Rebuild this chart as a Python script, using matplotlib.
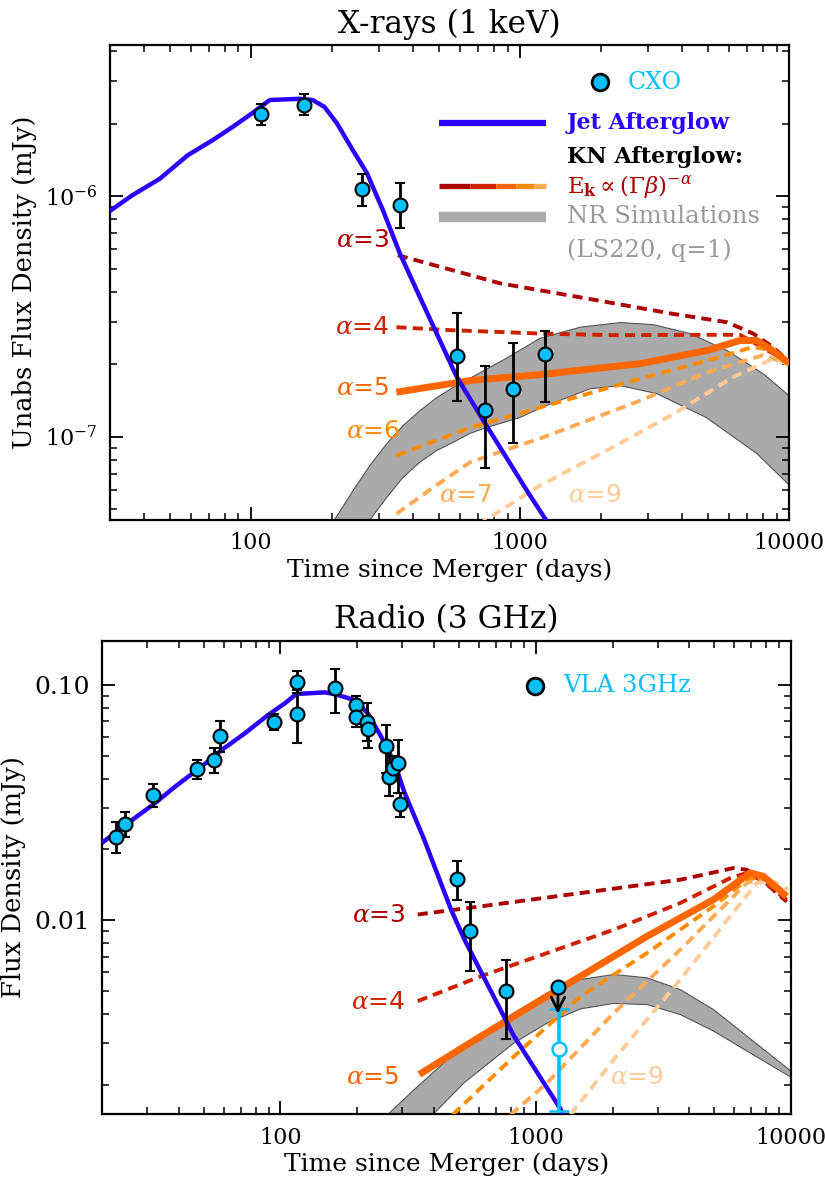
import numpy as np
import matplotlib
matplotlib.use("Agg")
import matplotlib.pyplot as plt
from matplotlib.ticker import FixedLocator, NullFormatter, LogLocator

plt.rcParams['font.family'] = ['DejaVu Serif']
plt.rcParams['mathtext.fontset'] = 'dejavuserif'

# ---------------- X-ray (1 keV) ----------------
xr_t = [109, 158, 260, 359, 585, 745, 940, 1236]
xr_f = [2.20e-6, 2.40e-6, 1.07e-6, 9.15e-7, 2.17e-7, 1.29e-7, 1.58e-7, 2.20e-7]
xr_hi = [2.42e-6, 2.66e-6, 1.24e-6, 1.13e-6, 3.27e-7, 1.96e-7, 2.45e-7, 2.75e-7]
xr_lo = [1.98e-6, 2.18e-6, 0.91e-6, 7.38e-7, 1.40e-7, 7.41e-8, 9.42e-8, 1.39e-7]

jx_t = [30, 36.4, 45.9, 58.4, 72.3, 85.7, 101.7, 117.7, 152, 170, 188, 209, 239,
        270, 310, 358, 414, 583, 745, 1080, 1256, 1320]
jx_f = [8.68e-7, 1.01e-6, 1.18e-6, 1.48e-6, 1.71e-6, 1.94e-6, 2.22e-6, 2.51e-6,
        2.54e-6, 2.51e-6, 2.35e-6, 2.01e-6, 1.56e-6, 1.25e-6, 8.74e-7, 5.79e-7,
        4.06e-7, 1.77e-7, 1.13e-7, 5.79e-8, 4.47e-8, 4.0e-8]

nrx_up_t = [190, 202, 240, 277, 320, 368, 425, 490, 565, 893, 1186, 1675, 2366, 3141,
            4300, 5884, 8058, 10000]
nrx_up_f = [3.9e-8, 4.4e-8, 5.96e-8, 7.57e-8, 9.33e-8, 1.11e-7, 1.28e-7, 1.45e-7,
            1.60e-7, 2.12e-7, 2.56e-7, 2.85e-7, 2.98e-7, 2.92e-7, 2.68e-7, 2.28e-7,
            1.82e-7, 1.48e-7]
nrx_lo_t = [255, 273, 320, 368, 425, 490, 565, 652, 751, 1000, 1223, 1820, 2354, 3222,
            4932, 7600, 10000]
nrx_lo_f = [4.0e-8, 4.4e-8, 5.58e-8, 6.76e-8, 7.82e-8, 8.74e-8, 9.46e-8, 1.03e-7,
            1.09e-7, 1.20e-7, 1.33e-7, 1.58e-7, 1.63e-7, 1.51e-7, 1.20e-7, 8.5e-8, 6.3e-8]

xa3_t = [352, 844, 1930, 3700, 5884, 7370, 8700, 10000]
xa3_f = [5.68e-7, 4.34e-7, 3.69e-7, 3.24e-7, 2.99e-7, 2.68e-7, 2.36e-7, 2.05e-7]
xa4_t = [348, 557, 1223, 2295, 4300, 6580, 8700, 10000]
xa4_f = [2.85e-7, 2.77e-7, 2.68e-7, 2.64e-7, 2.65e-7, 2.65e-7, 2.22e-7, 2.03e-7]
xa5_t = [348, 653, 1186, 2797, 4960, 6580, 7600, 8700, 10000]
xa5_f = [1.53e-7, 1.71e-7, 1.81e-7, 2.01e-7, 2.28e-7, 2.51e-7, 2.51e-7, 2.28e-7, 2.02e-7]
xa6_t = [348, 653, 1186, 2797, 4960, 7370, 8700, 10000]
xa6_f = [8.34e-8, 1.09e-7, 1.32e-7, 1.74e-7, 2.07e-7, 2.36e-7, 2.28e-7, 2.02e-7]
xa7_t = [348, 477, 653, 1220, 2797, 4960, 8000, 10000]
xa7_f = [4.77e-8, 6.15e-8, 7.82e-8, 9.93e-8, 1.41e-7, 1.85e-7, 2.18e-7, 2.0e-7]
xa9_t = [700, 1186, 2098, 3714, 6212, 8742, 10000]
xa9_f = [4.3e-8, 6.25e-8, 8.74e-8, 1.24e-7, 1.77e-7, 2.11e-7, 2.0e-7]

# ---------------- Radio (3 GHz) ----------------
rd_t = [22.7, 24.7, 31.8, 47.0, 54.9, 57.9, 94.5, 116, 116, 164, 198, 198, 218, 220,
        258, 267, 275, 290, 294, 491, 553, 765]
rd_f = [0.0227, 0.0257, 0.0341, 0.0440, 0.0481, 0.0609, 0.0698, 0.103, 0.0755, 0.0974,
        0.0822, 0.0734, 0.0698, 0.0650, 0.0552, 0.0408, 0.0443, 0.0468, 0.0313,
        0.01498, 0.00897, 0.00499]
rd_hi = [0.0261, 0.0288, 0.038, 0.0481, 0.0542, 0.0703, 0.0753, 0.1147, 0.0952, 0.1166,
         0.0901, 0.081, 0.0841, 0.072, 0.0676, 0.0530, 0.050, 0.0585, 0.0347,
         0.0179, 0.0119, 0.0068]
rd_lo = [0.0193, 0.0227, 0.0304, 0.0400, 0.0422, 0.0521, 0.0644, 0.0925, 0.0567, 0.0758,
         0.075, 0.0665, 0.058, 0.0539, 0.0423, 0.0336, 0.039, 0.0347, 0.0276,
         0.0122, 0.00607, 0.00314]
ul_t, ul_f, ul_tip = 1222, 0.00519, 0.0039
op_t, op_f, op_hi, op_lo = 1233, 0.00284, 0.0042, 0.00155

jr_t = [20.3, 22.9, 27.0, 32.3, 38.7, 49.1, 58.8, 72.6, 89.5, 104, 115.5, 149, 163, 195,
        220, 248, 280, 306, 366, 466, 525, 823, 1253, 1300]
jr_f = [0.0216, 0.0238, 0.0273, 0.0315, 0.0370, 0.0450, 0.0529, 0.0624, 0.0746, 0.0836,
        0.0916, 0.0931, 0.0916, 0.0864, 0.0758, 0.0604, 0.0466, 0.0350, 0.0220, 0.0111,
        0.0083, 0.00321, 0.00157, 0.00140]

nrr_up_t = [240, 263, 335, 452, 610, 823, 1111, 1500, 2024, 2731, 3685, 4972, 6711, 10000]
nrr_up_f = [0.0013, 0.00149, 0.00191, 0.00256, 0.00321, 0.00404, 0.00491, 0.00560,
            0.00588, 0.00569, 0.00507, 0.00417, 0.00322, 0.00228]
nrr_lo_t = [360, 395, 525, 823, 1111, 1500, 2024, 2731, 3685, 4972, 6711, 10000]
nrr_lo_f = [0.0013, 0.00149, 0.00204, 0.00301, 0.00366, 0.00420, 0.00443, 0.00438,
            0.00397, 0.00338, 0.00278, 0.00215]

ra3_t = [345, 610, 1500, 3685, 5953, 6711, 7800, 9620]
ra3_f = [0.01058, 0.01146, 0.01305, 0.01487, 0.01667, 0.0164, 0.01463, 0.0120]
ra4_t = [345, 610, 1111, 2024, 3685, 5777, 6711, 7800, 9620]
ra4_f = [0.00453, 0.00578, 0.00726, 0.00912, 0.01184, 0.0151, 0.0159, 0.01463, 0.0122]
ra5_t = [350, 425, 610, 955, 1500, 2731, 4972, 6918, 7800, 9620]
ra5_f = [0.00221, 0.00252, 0.00321, 0.00431, 0.00578, 0.00855, 0.01224, 0.0159, 0.01536, 0.01263]
ra6_t = [473, 823, 1500, 2731, 4972, 6711, 7800, 9620]
ra6_f = [0.00149, 0.00264, 0.00475, 0.00726, 0.01146, 0.01486, 0.01536, 0.01285]
ra7_t = [798, 1111, 2024, 3685, 6711, 7800, 9620]
ra7_f = [0.00149, 0.00204, 0.00404, 0.0075, 0.0144, 0.0151, 0.0131]
ra9_t = [1370, 2024, 3685, 5777, 7345, 8536, 9772]
ra9_f = [0.00149, 0.00256, 0.0056, 0.0104, 0.0144, 0.0146, 0.0135]

# colours
c_jet = '#2a00ff'
c_pt = '#00bfff'
c_a = {3: '#aa0000', 4: '#cc2200', 5: '#ff6600', 6: '#ff8c00', 7: '#ffaa55', 9: '#ffcc99'}
c_band = '#aaaaaa'
dash = (0, (2.6, 1.6))

fig = plt.figure(figsize=(8.25, 11.85), dpi=100)
ax1 = fig.add_axes([0.1333, 0.5612, 0.8230, 0.4008])
ax2 = fig.add_axes([0.1236, 0.0599, 0.8352, 0.3992])


def style_axis(ax):
    ax.set_xscale('log')
    ax.set_yscale('log')
    for s in ax.spines.values():
        s.set_linewidth(1.6)
    ax.tick_params(which='both', direction='in', top=True, right=True)
    ax.tick_params(axis='x', labelsize=16)
    ax.tick_params(which='major', length=9.5, width=1.3, pad=9)
    ax.tick_params(which='minor', length=5, width=1.1)
    ax.xaxis.set_major_locator(FixedLocator([100, 1000, 10000]))
    ax.set_xticklabels(['100', '1000', '10000'])
    ax.xaxis.set_minor_locator(LogLocator(base=10, subs=np.arange(2, 10)))
    ax.xaxis.set_minor_formatter(NullFormatter())
    ax.yaxis.set_minor_formatter(NullFormatter())
    ax.set_xlabel('Time since Merger (days)', fontsize=18, labelpad=3)


def draw_kn(ax, lines):
    for a, (t, f) in lines.items():
        if a == 5:
            ax.plot(t, f, color=c_a[a], lw=5, solid_capstyle='butt', zorder=3)
        else:
            ax.plot(t, f, color=c_a[a], lw=2.8, ls=dash, zorder=3)


# ---------- top panel ----------
style_axis(ax1)
ax1.fill(nrx_up_t + nrx_lo_t[::-1], nrx_up_f + nrx_lo_f[::-1], facecolor=c_band,
         edgecolor='#555555', lw=0.8, zorder=1)
draw_kn(ax1, {3: (xa3_t, xa3_f), 4: (xa4_t, xa4_f), 6: (xa6_t, xa6_f),
              7: (xa7_t, xa7_f), 9: (xa9_t, xa9_f), 5: (xa5_t, xa5_f)})
ax1.plot(jx_t, jx_f, color=c_jet, lw=3.2, zorder=4)
xr_f_a = np.array(xr_f)
ax1.errorbar(xr_t, xr_f, yerr=[xr_f_a - np.array(xr_lo), np.array(xr_hi) - xr_f_a],
             fmt='o', mfc=c_pt, mec='k', mew=1.5, ms=10, ecolor='k', elinewidth=2,
             capsize=3.5, capthick=2, zorder=5)
ax1.set_xlim(30, 10000)
ax1.set_ylim(4.5e-8, 4.25e-6)
ax1.yaxis.set_major_locator(FixedLocator([1e-7, 1e-6]))
ax1.set_yticklabels([r'10$^{-7}$', r'10$^{-6}$'])
ax1.tick_params(axis='y', labelsize=16)
ax1.set_ylabel('Unabs Flux Density (mJy)', fontsize=18.5, labelpad=6)
ax1.set_title('X-rays (1 keV)', fontsize=22.5, pad=9)

lab_kw = dict(fontsize=18, family='DejaVu Sans', va='center')
ax1.text(329, 6.56e-7, r'$\alpha$=3', color=c_a[3], ha='right', **lab_kw)
ax1.text(329, 2.85e-7, r'$\alpha$=4', color=c_a[4], ha='right', **lab_kw)
ax1.text(329, 1.60e-7, r'$\alpha$=5', color=c_a[5], ha='right', **lab_kw)
ax1.text(358, 1.05e-7, r'$\alpha$=6', color=c_a[6], ha='right', **lab_kw)
ax1.text(630, 5.7e-8, r'$\alpha$=7', color=c_a[7], ha='center', **lab_kw)
ax1.text(1900, 5.7e-8, r'$\alpha$=9', color=c_a[9], ha='center', **lab_kw)

# legend (top)
tr = ax1.transAxes
ax1.plot([0.7216], [0.922], 'o', mfc=c_pt, mec='k', mew=2, ms=12, transform=tr, zorder=6)
ax1.text(0.763, 0.922, 'CXO', color=c_pt, fontsize=17, va='center', transform=tr)
ax1.plot([0.4845, 0.642], [0.836, 0.836], color=c_jet, lw=4.5, transform=tr, solid_capstyle='butt')
ax1.text(0.673, 0.836, 'Jet Afterglow', color=c_jet, fontsize=16, fontweight='bold',
         va='center', transform=tr)
ax1.text(0.673, 0.764, 'KN Afterglow:', color='k', fontsize=16, fontweight='bold',
         va='center', transform=tr)
seg = [0.4845, 0.5300, 0.5680, 0.5985, 0.6240, 0.642]
seg_c = [c_a[3], c_a[4], c_a[5], c_a[6], c_a[7]]
for i in range(5):
    ax1.plot([seg[i], seg[i + 1]], [0.703, 0.703], color=seg_c[i], lw=3.8,
             transform=tr, solid_capstyle='butt')
ax1.text(0.673, 0.703, r'E$_\mathbf{k}$$\propto$($\Gamma\beta$)$^{-\alpha}$', color=c_a[3],
         fontsize=16.5, va='center', transform=tr)
ax1.plot([0.4845, 0.642], [0.638, 0.638], color=c_band, lw=7.5, transform=tr, solid_capstyle='butt')
ax1.text(0.673, 0.638, 'NR Simulations', color='#999999', fontsize=17.5, va='center', transform=tr)
ax1.text(0.673, 0.568, '(LS220, q=1)', color='#999999', fontsize=17.5, va='center', transform=tr)

# ---------- bottom panel ----------
style_axis(ax2)
ax2.fill(nrr_up_t + nrr_lo_t[::-1], nrr_up_f + nrr_lo_f[::-1], facecolor=c_band,
         edgecolor='#555555', lw=0.8, zorder=1)
draw_kn(ax2, {3: (ra3_t, ra3_f), 4: (ra4_t, ra4_f), 6: (ra6_t, ra6_f),
              7: (ra7_t, ra7_f), 9: (ra9_t, ra9_f), 5: (ra5_t, ra5_f)})
ax2.plot(jr_t, jr_f, color=c_jet, lw=3.2, zorder=4)
rd_f_a = np.array(rd_f)
ax2.errorbar(rd_t, rd_f, yerr=[rd_f_a - np.array(rd_lo), np.array(rd_hi) - rd_f_a],
             fmt='o', mfc=c_pt, mec='k', mew=1.5, ms=10, ecolor='k', elinewidth=2,
             capsize=3.5, capthick=2, zorder=5)
# open point with cyan error bar
ax2.errorbar([op_t], [op_f], yerr=[[op_f - op_lo], [op_hi - op_f]], fmt='o', mfc='white',
             mec=c_pt, mew=1.8, ms=10, ecolor=c_pt, elinewidth=2.6, capsize=7,
             capthick=3, zorder=5)
# upper limit
ax2.annotate('', xy=(ul_t, ul_tip), xytext=(ul_t, ul_f),
             arrowprops=dict(arrowstyle='->', color='k', lw=2, mutation_scale=24), zorder=6)
ax2.plot([ul_t], [ul_f], 'o', mfc=c_pt, mec='k', mew=1.5, ms=10, zorder=7)

ax2.set_xlim(20, 10000)
ax2.set_ylim(0.0015, 0.154)
ax2.yaxis.set_major_locator(FixedLocator([0.01, 0.1]))
ax2.set_yticklabels(['0.01', '0.10'])
ax2.tick_params(axis='y', labelsize=18)
ax2.set_ylabel('Flux Density (mJy)', fontsize=18.5, labelpad=6)
ax2.set_title('Radio (3 GHz)', fontsize=22.5, pad=9)

ax2.text(310, 0.01055, r'$\alpha$=3', color=c_a[3], ha='right', **lab_kw)
ax2.text(310, 0.00447, r'$\alpha$=4', color=c_a[4], ha='right', **lab_kw)
ax2.text(292, 0.00216, r'$\alpha$=5', color=c_a[5], ha='right', **lab_kw)
ax2.text(2487, 0.00216, r'$\alpha$=9', color=c_a[9], ha='center', **lab_kw)

tr2 = ax2.transAxes
ax2.plot([0.628], [0.905], 'o', mfc=c_pt, mec='k', mew=2, ms=12, transform=tr2, zorder=6)
ax2.text(0.669, 0.905, 'VLA 3GHz', color=c_pt, fontsize=17.5, va='center', transform=tr2)

fig.savefig('out.png', dpi=100)
